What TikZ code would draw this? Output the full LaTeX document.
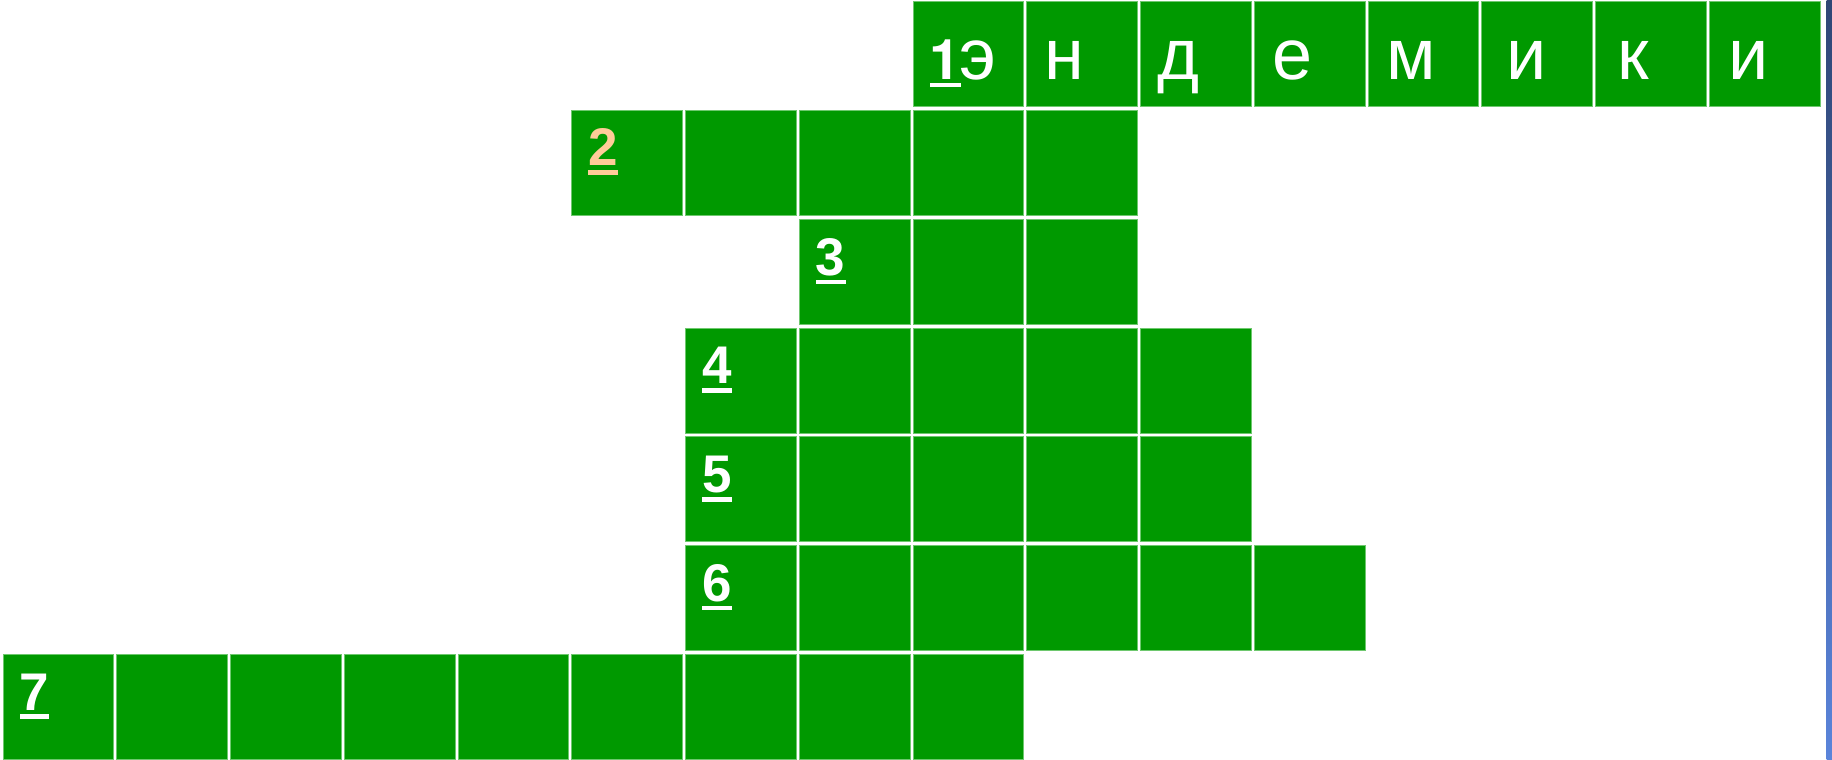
\documentclass[tikz,border=0pt]{standalone}
\usepackage{fontspec}
\setmainfont{Liberation Sans}
\newfontfamily\heros{TeX Gyre Heros}
\definecolor{cgreen}{RGB}{0,153,0}
\definecolor{cedge}{RGB}{110,200,110}
\definecolor{peach}{RGB}{255,204,153}
\definecolor{bartop}{RGB}{47,70,117}
\definecolor{barbot}{RGB}{90,132,218}
\tikzset{
  cell/.style={anchor=north west, minimum width=110.8pt, minimum height=105pt,
    inner sep=0pt, outer sep=0pt, fill=cgreen, draw=cedge, line width=0.8pt},
  letter/.style={anchor=base, inner sep=0pt, text=white, font=\fontsize{72}{72}\selectfont},
  numtxt/.style={anchor=base west, inner sep=0pt, text=white, font=\fontsize{53}{53}\selectfont\bfseries},
}
\newcommand{\cellrow}[3]{% row, first col, last col
  \foreach \c in {#2,...,#3}{
    \node[cell] (r#1c\c) at ({3+113.75*\c},{-(1.8+108.7*#1)}) {};
  }}
\newcommand{\numlab}[4]{% name, row, col, digit
  \node[numtxt] (#1) at ({3+113.75*#3+16.5},{-(1.8+108.7*#2+56)}) {#4};
  \fill[white] ([yshift=-4.3pt]#1.base west) rectangle ([yshift=-9pt]#1.base east);}
\begin{document}
\begin{tikzpicture}[x=1pt,y=1pt]
\useasboundingbox (0,0) rectangle (1832,-760);
\cellrow{0}{8}{15}
\cellrow{1}{5}{9}
\cellrow{2}{7}{9}
\cellrow{3}{6}{10}
\cellrow{4}{6}{10}
\cellrow{5}{6}{11}
\cellrow{6}{0}{8}
% row 0 letters
\node[numtxt, font=\fontsize{56}{56}\selectfont\heros\bfseries] (n1) at (929.5,-80) {1};
\fill[white] ([yshift=-2.8pt]n1.base west) rectangle ([yshift=-7.4pt]n1.base east);
\node[letter] (l1) at (977.5,-80) {э};
\node[letter] (l2) at (1064,-80) {н};
\node[letter] (l3) at (1178,-80) {д};
\node[letter] (l4) at (1292.5,-80) {е};
\node[letter] (l5) at (1411.5,-80) {м};
\node[letter] (l6) at (1526.5,-80) {и};
\node[letter] (l7) at (1633.5,-80) {к};
\node[letter] (l8) at (1748.5,-80) {и};
% numbers
\node[numtxt, text=peach] (n2) at ({3+113.75*5+16.5},{-(1.8+108.7*1+55.4)}) {2};
\fill[peach] ([yshift=-4.3pt]n2.base west) rectangle ([yshift=-9pt]n2.base east);
\numlab{n3}{2}{7}{3}
\numlab{n4}{3}{6}{4}
\numlab{n5}{4}{6}{5}
\numlab{n6}{5}{6}{6}
\numlab{n7}{6}{0}{7}
% right edge bar
\shade[top color=bartop, bottom color=barbot] (1826.7,0) rectangle (1832,-760);
\end{tikzpicture}
\end{document}
